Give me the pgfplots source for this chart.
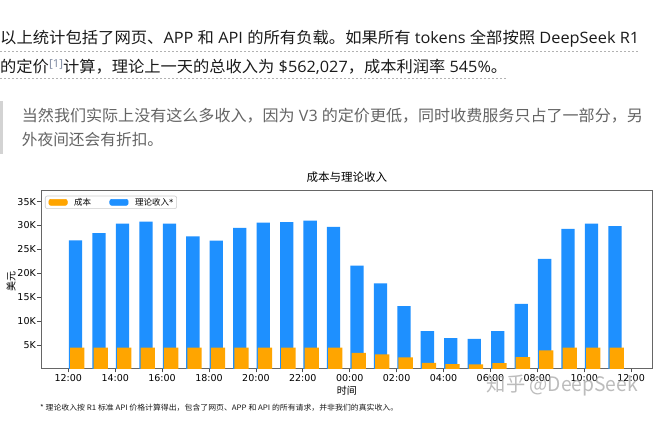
\documentclass[border=0pt]{standalone}
\usepackage{pgfplots}
\pgfplotsset{compat=1.18}
\usepackage{pgfplotstable}
\usepackage{graphicx}
\usepackage{fontspec}
\setmainfont{Open Sans}
\newfontfamily\cjk{Noto Sans CJK SC}
\newfontfamily\dejavu{DejaVu Sans}
\newcommand\C[1]{{\cjk #1}}
\definecolor{bodytext}{HTML}{1A1A1A}
\definecolor{quotetext}{HTML}{646464}
\definecolor{quotebar}{HTML}{D3D3D3}
\definecolor{linkgray}{HTML}{7A869E}
\definecolor{dodger}{HTML}{1E90FF}
\definecolor{mplorange}{HTML}{FFA500}

\pgfplotstableread{
h rev cost
0 26900 4450
1 28400 4450
2 30400 4450
3 30800 4450
4 30400 4450
5 27700 4450
6 26800 4450
7 29500 4450
8 30600 4450
9 30700 4450
10 31000 4450
11 29700 4450
12 21600 3350
13 17900 3000
14 13100 2380
15 7900 1260
16 6400 980
17 6250 910
18 7900 1190
19 13600 2450
20 23000 3850
21 29300 4450
22 30400 4450
23 29850 4450
}\data

\begin{document}
\begin{tikzpicture}
\useasboundingbox (0bp,0bp) rectangle (660bp,-448bp);
\fill[white] (0bp,0bp) rectangle (660bp,-448bp);

% ---- body text ----
\node[anchor=west, inner sep=0pt, text=bodytext, font=\fontsize{15.7bp}{18bp}\selectfont] at (0bp,-39bp)
  {\resizebox{639bp}{\height}{\C{以上统计包括了网页、}APP \C{和} API \C{的所有负载。如果所有} tokens \C{全部按照} DeepSeek R1}};
\draw[black!30, line width=0.7bp, dash pattern=on 2bp off 2bp] (0bp,-51bp) -- (639bp,-51bp);

\node[anchor=west, inner sep=0pt, text=bodytext, font=\fontsize{15.7bp}{18bp}\selectfont] at (0bp,-67bp)
  {\resizebox{507bp}{\height}{\C{的定价}\raisebox{5bp}{\fontsize{11bp}{12bp}\selectfont\color{linkgray}[1]}\C{计算，理论上一天的总收入为} \$562,027\C{，成本利润率} 545\%\C{。}}};
\draw[black!30, line width=0.7bp, dash pattern=on 2bp off 2bp] (0bp,-78bp) -- (507bp,-78bp);

% ---- blockquote ----
\fill[quotebar] (0bp,-101bp) rectangle (3bp,-154bp);
\node[anchor=west, inner sep=0pt, text=quotetext, font=\fontsize{15.7bp}{18bp}\selectfont] at (21.7bp,-116bp)
  {\resizebox{621bp}{\height}{\C{当然我们实际上没有这么多收入，因为} V3 \C{的定价更低，同时收费服务只占了一部分，另}}};
\node[anchor=west, inner sep=0pt, text=quotetext, font=\fontsize{15.7bp}{18bp}\selectfont] at (21.7bp,-139.5bp)
  {\C{外夜间还会有折扣。}};

% ---- chart ----
\begin{axis}[
  at={(41bp,-368.8bp)}, anchor=south west,
  scale only axis, width=611.7bp, height=178.1bp,
  xmin=-1.164, xmax=24.92, ymin=0, ymax=37270,
  ybar,
  scaled y ticks=false,
  axis line style={draw=black!60, line width=0.8bp},
  tick style={draw=black!70, line width=0.8bp},
  major tick length=3.5bp, tick align=outside, tick pos=left,
  xtick={0,2,...,24},
  xticklabels={12:00,14:00,16:00,18:00,20:00,22:00,00:00,02:00,04:00,06:00,08:00,10:00,12:00},
  ytick={5000,10000,15000,20000,25000,30000,35000},
  yticklabels={5K,10K,15K,20K,25K,30K,35K},
  ticklabel style={font=\dejavu\fontsize{9.5bp}{11bp}\selectfont, inner sep=1.5bp},
  xlabel={\C{时间}},
  ylabel={\C{美元}},
  xlabel style={font=\fontsize{10bp}{12bp}\selectfont, at={(axis description cs:0.5,-0.125)}, anchor=center},
  ylabel style={font=\fontsize{10bp}{12bp}\selectfont, at={(axis description cs:-0.049,0.493)}, anchor=center},
  title={\C{成本与理论收入}},
  title style={font=\fontsize{11.5bp}{13bp}\selectfont, at={(axis description cs:0.5,1)}, anchor=center, yshift=7.7bp},
  legend columns=2,
  legend style={at={(axis description cs:0.0065,0.972)}, anchor=north west,
    draw=black!20, line width=0.6bp, rounded corners=2bp, fill=white,
    inner xsep=3.3bp, inner ysep=2bp,
    font=\fontsize{8.5bp}{10bp}\selectfont,
    nodes={inner sep=0pt, anchor=west},
    /tikz/every odd column/.append style={column sep=6.6bp},
    /tikz/every even column/.append style={column sep=18.3bp}},
]
\addlegendimage{legend image code/.code={\fill[mplorange] (0bp,-3bp) rectangle (18.4bp,3bp);}}
\addlegendentry{\C{成本}}
\addlegendimage{legend image code/.code={\fill[dodger] (0bp,-3bp) rectangle (18.4bp,3bp);}}
\addlegendentry{\C{理论收入}{\dejavu *}}
\addplot[fill=dodger, draw=none, bar width=13.3bp, bar shift=7.3bp, forget plot] table[x=h, y=rev] {\data};
\addplot[fill=mplorange, draw=none, bar width=14.3bp, bar shift=9.0bp, forget plot] table[x=h, y=cost] {\data};
\end{axis}

% ---- footnote ----
\node[anchor=west, inner sep=0pt, text=black!90] at (40bp,-408bp)
  {\resizebox{358bp}{\height}{\cjk\fontsize{7.5bp}{9bp}\selectfont * 理论收入按 R1 标准 API 价格计算得出，包含了网页、APP 和 API 的所有请求，并非我们的真实收入。}};

% ---- watermark (overlaps the tick labels, as in the source) ----
\node[anchor=west, inner sep=0pt, text=black!35, opacity=0.75] at (486.7bp,-385bp)
  {\resizebox{151bp}{\height}{\cjk\fontsize{20bp}{22bp}\selectfont 知乎 @DeepSeek}};
\end{tikzpicture}
\end{document}
